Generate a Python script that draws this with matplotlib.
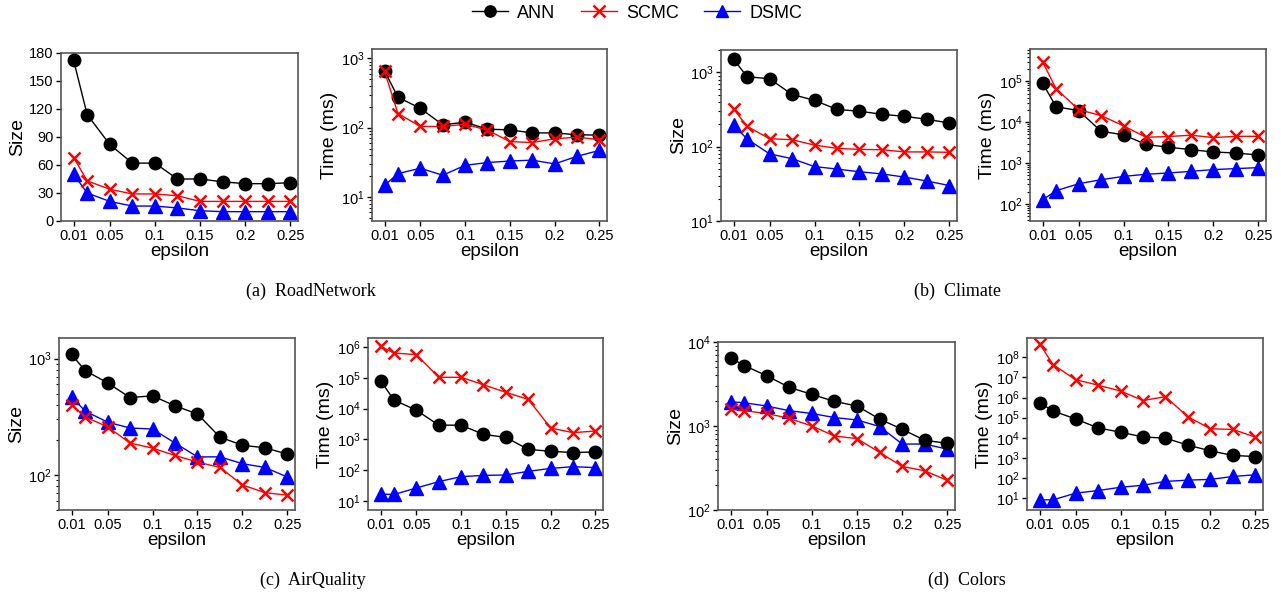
import numpy as np
import matplotlib
matplotlib.use("Agg")
import matplotlib.pyplot as plt
from matplotlib.ticker import LogLocator, FixedLocator

plt.rcParams['font.family'] = ['Liberation Sans', 'DejaVu Sans']
plt.rcParams['mathtext.fontset'] = 'custom'
plt.rcParams['mathtext.rm'] = 'Liberation Sans'
plt.rcParams['mathtext.it'] = 'Liberation Sans:italic'

eps = [0.01, 0.025, 0.05, 0.075, 0.1, 0.125, 0.15, 0.175, 0.2, 0.225, 0.25]
xticks = [0.01, 0.05, 0.1, 0.15, 0.2, 0.25]
xticklabels = ['0.01', '0.05', '0.1', '0.15', '0.2', '0.25']

# (a) RoadNetwork
road_size_ann = [172, 114, 82, 62, 62, 45, 45, 42, 40, 40, 41]
road_size_scmc = [68, 43, 34, 29, 29, 27, 21, 21, 21, 21, 21]
road_size_dsmc = [50, 30, 21, 16, 16, 14, 11, 10, 10, 10, 10]
road_time_ann = [660, 275, 190, 110, 120, 95, 93, 84, 84, 79, 78]
road_time_scmc = [650, 160, 104, 104, 112, 92, 63, 61, 69, 73, 67]
road_time_dsmc = [14.7, 21.7, 26, 20.6, 28.6, 31.4, 33, 34, 30, 38.6, 47]

# (b) Climate
clim_size_ann = [1500, 875, 820, 505, 420, 317, 300, 273, 256, 234, 208]
clim_size_scmc = [322, 188, 128, 124, 105, 95, 92, 91, 85, 85, 84]
clim_size_dsmc = [195, 127, 80, 69, 54, 50, 46, 43, 39, 34.5, 30]
clim_time_ann = [91000, 23800, 19300, 6000, 4900, 2850, 2430, 2130, 1860, 1760, 1570]
clim_time_scmc = [300000, 66000, 20400, 14500, 8150, 4280, 4450, 4800, 4200, 4500, 4500]
clim_time_dsmc = [125, 210, 310, 390, 470, 530, 570, 625, 690, 730, 770]

# (c) AirQuality
air_size_ann = [1083, 788, 618, 462, 478, 392, 334, 211, 180, 171, 151]
air_size_scmc = [402, 315, 259, 188, 170, 147, 129, 116, 82, 70.5, 67]
air_size_dsmc = [470, 354, 284, 253, 248, 188, 143, 143, 125, 116, 96]
air_time_ann = [82000, 19000, 8900, 2900, 2900, 1450, 1160, 470, 410, 370, 390]
air_time_scmc = [1.07e6, 6.5e5, 5.75e5, 1.05e5, 1.05e5, 6e4, 3.4e4, 2.0e4, 2350, 1650, 1870]
air_time_dsmc = [16.5, 16, 26, 42, 61, 67, 69, 91, 113, 129, 120]

# (d) Colors
col_size_ann = [6500, 5250, 3960, 2880, 2380, 1960, 1730, 1210, 913, 676, 622]
col_size_scmc = [1590, 1520, 1410, 1230, 1000, 760, 707, 485, 330, 293, 225]
col_size_dsmc = [1945, 1890, 1730, 1520, 1410, 1260, 1180, 985, 610, 610, 530]
col_time_ann = [5.5e5, 2.15e5, 8.6e4, 3.1e4, 1.9e4, 1.1e4, 9600, 4300, 2250, 1330, 1170]
col_time_scmc = [4.6e8, 4.3e7, 7.7e6, 4.1e6, 2.1e6, 7.1e5, 1.1e6, 1.1e5, 2.8e4, 2.6e4, 1.08e4]
col_time_dsmc = [8.3, 8.3, 17.8, 24, 35, 44, 68, 79, 86, 120, 146]

W, H = 1281, 594
fig = plt.figure(figsize=(W / 100, H / 100), dpi=100)


def px_axes(x0, y0, x1, y1):
    return fig.add_axes([x0 / W, 1 - y1 / H, (x1 - x0) / W, (y1 - y0) / H])


def panel(ax, ann, scmc, dsmc, ylabel, log=True, ylim=None):
    l1, = ax.plot(eps, ann, color='black', marker='o', ms=9, lw=1, clip_on=False, zorder=3)
    l2, = ax.plot(eps, scmc, color='red', marker='x', ms=9, mew=1.8, lw=1, clip_on=False, zorder=4)
    l3, = ax.plot(eps, dsmc, color='blue', marker='^', ms=9.5, lw=1, clip_on=False, zorder=2)
    if log:
        ax.set_yscale('log')
        ax.yaxis.set_major_locator(LogLocator(base=10, numticks=20))
    if ylim:
        ax.set_ylim(*ylim)
    ax.set_xlim(-0.004, 0.2585)
    ax.xaxis.set_major_locator(FixedLocator(xticks))
    ax.set_xticklabels(xticklabels)
    ax.set_xlabel('epsilon', fontsize=13.5, labelpad=0)
    ax.set_ylabel(ylabel, fontsize=14, labelpad=2)
    ax.tick_params(axis='both', which='major', labelsize=10.5, length=3.5, width=1, pad=2)
    ax.tick_params(axis='both', which='minor', length=2, width=0.8)
    for s in ax.spines.values():
        s.set_color('#555555')
        s.set_linewidth(1.2)
    return l1, l2, l3


ax = px_axes(61, 53, 298, 221)
handles = panel(ax, road_size_ann, road_size_scmc, road_size_dsmc, 'Size', log=False, ylim=(0, 180))
ax.set_yticks([0, 30, 60, 90, 120, 150, 180])
ax = px_axes(372, 49, 607, 221)
panel(ax, road_time_ann, road_time_scmc, road_time_dsmc, 'Time (ms)', ylim=(4.5, 1365))

ax = px_axes(721, 50, 957, 221)
panel(ax, clim_size_ann, clim_size_scmc, clim_size_dsmc, 'Size', ylim=(10, 2000))
ax = px_axes(1030, 49, 1266, 221)
panel(ax, clim_time_ann, clim_time_scmc, clim_time_dsmc, 'Time (ms)', ylim=(38, 6.2e5))

ax = px_axes(59, 338, 295, 510)
panel(ax, air_size_ann, air_size_scmc, air_size_dsmc, 'Size', ylim=(50, 1500))
ax = px_axes(368, 338, 603, 510)
panel(ax, air_time_ann, air_time_scmc, air_time_dsmc, 'Time (ms)', ylim=(5, 2e6))

ax = px_axes(718, 342, 955, 510)
panel(ax, col_size_ann, col_size_scmc, col_size_dsmc, 'Size', ylim=(100, 10000))
ax = px_axes(1027, 338, 1263, 510)
panel(ax, col_time_ann, col_time_scmc, col_time_dsmc, 'Time (ms)', ylim=(2.6, 9e8))

fig.legend(handles, ['ANN', 'SCMC', 'DSMC'], loc='center', bbox_to_anchor=(637 / W, 1 - 13 / H),
           ncol=3, frameon=False, fontsize=13, handlelength=2.0, handletextpad=0.5,
           columnspacing=1.4, markerscale=0.9)

cap_font = dict(family=['Liberation Serif', 'DejaVu Serif'], fontsize=13, ha='center', va='center')
fig.text(311 / W, 1 - 291 / H, '(a)  RoadNetwork', **cap_font)
fig.text(957 / W, 1 - 291 / H, '(b)  Climate', **cap_font)
fig.text(313 / W, 1 - 580 / H, '(c)  AirQuality', **cap_font)
fig.text(967 / W, 1 - 580 / H, '(d)  Colors', **cap_font)

fig.savefig('out.png', dpi=100)
